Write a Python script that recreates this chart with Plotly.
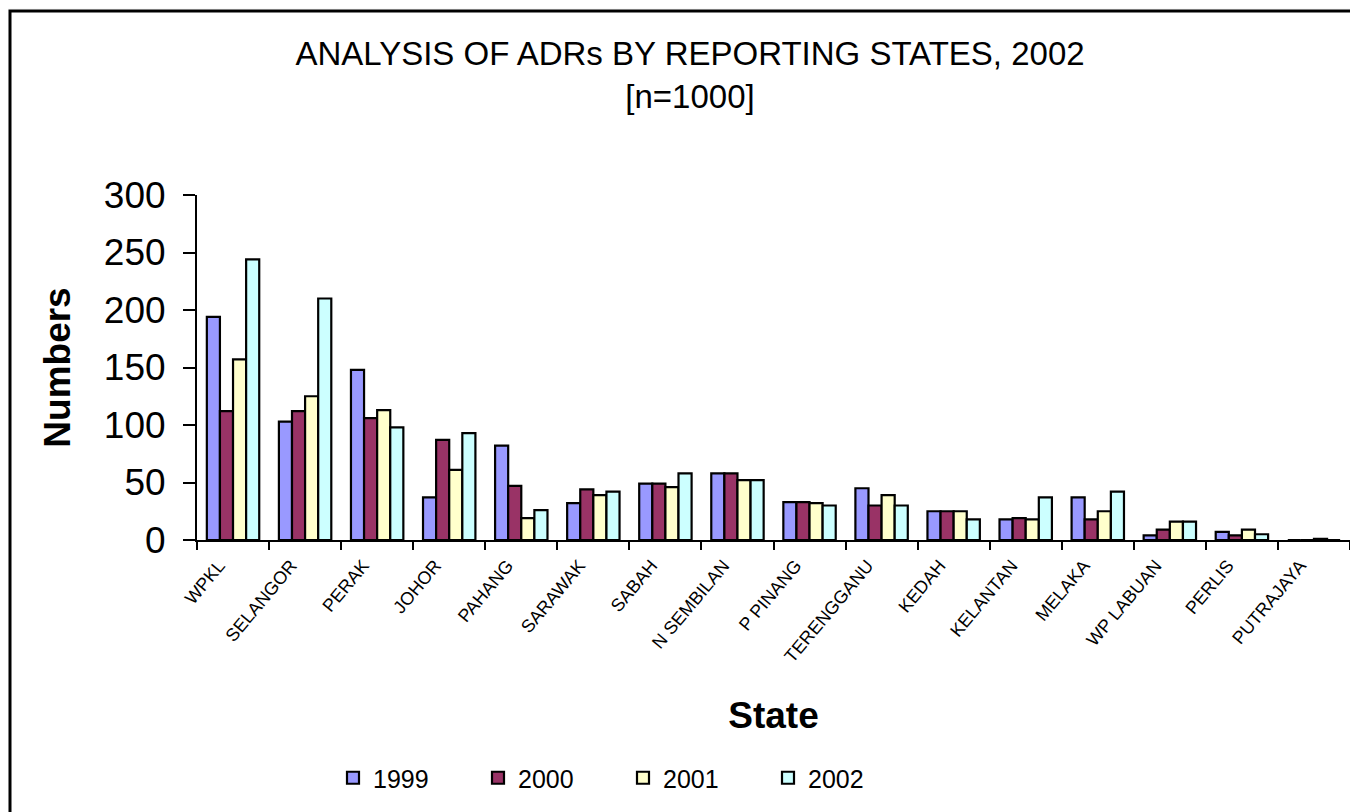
import plotly.graph_objects as go

states = ["WPKL", "SELANGOR", "PERAK", "JOHOR", "PAHANG", "SARAWAK", "SABAH",
          "N SEMBILAN", "P PINANG", "TERENGGANU", "KEDAH", "KELANTAN", "MELAKA",
          "WP LABUAN", "PERLIS", "PUTRAJAYA"]
years = ["1999", "2000", "2001", "2002"]
v1999 = [194, 103, 148, 37, 82, 32, 49, 58, 33, 45, 25, 18, 37, 4, 7, 0]
v2000 = [112, 112, 106, 87, 47, 44, 49, 58, 33, 30, 25, 19, 18, 9, 4, 0]
v2001 = [157, 125, 113, 61, 19, 39, 46, 52, 32, 39, 25, 18, 25, 16, 9, 1]
v2002 = [244, 210, 98, 93, 26, 42, 58, 52, 30, 30, 18, 37, 42, 16, 5, 0]
series = [v1999, v2000, v2001, v2002]
colors = ["#9999FF", "#993366", "#FFFFCC", "#CCFFFF"]

FONT = "Liberation Sans, Arial, sans-serif"

fig = go.Figure()
for name, vals, col in zip(years, series, colors):
    fig.add_trace(go.Bar(
        x=states, y=vals, name=name,
        marker=dict(color=col, line=dict(color="black", width=2.2)),
    ))

OFF = 8  # page body margin
W, H = 1358 - OFF, 812 - OFF
# plot area in reference pixel coordinates
PL, PR, PT, PB = 197, 1350, 195, 540
L, T = PL - OFF, PT - OFF
R = W - (PR - OFF)
B = H - (PB - OFF)
pw, ph = W - L - R, H - T - B


def px_x(p):
    return (p - PL) / pw


def px_y(p):
    return (PB - p) / ph


fig.update_layout(
    width=W, height=H,
    margin=dict(l=L, r=R, t=T, b=B, autoexpand=False),
    paper_bgcolor="#fafafa",
    plot_bgcolor="white",
    barmode="group",
    bargap=0.273,
    bargroupgap=0,
    font=dict(family=FONT, color="black"),
    title=dict(
        text="ANALYSIS OF ADRs BY REPORTING STATES, 2002<br>[n=1000]",
        x=(690 - OFF) / W, xref="container", xanchor="center",
        y=1 - (65 - OFF) / H, yref="container", yanchor="top",
        font=dict(size=33, family=FONT, color="black"),
    ),
    legend=dict(
        orientation="h",
        x=px_x(333), xanchor="left",
        y=px_y(778), yanchor="middle",
        font=dict(size=25, family=FONT, color="black"),
        entrywidth=100, entrywidthmode="pixels",
        bgcolor="rgba(0,0,0,0)",
    ),
    xaxis=dict(
        type="category",
        showline=True, linecolor="black", linewidth=2,
        ticks="outside", tickson="boundaries", ticklen=8, tickwidth=2, tickcolor="black",
        tickangle=-50,
        ticklabelshift=-14,
        ticklabelstandoff=6,
        tickfont=dict(size=18, family=FONT, color="black"),
        showgrid=False,
        title=dict(text="<b>State</b>", font=dict(size=37, family=FONT, color="black"), standoff=37),
    ),
    yaxis=dict(
        range=[0, 300],
        tickvals=[0, 50, 100, 150, 200, 250, 300],
        showline=True, linecolor="black", linewidth=2,
        ticks="outside", ticklen=12, tickwidth=2, tickcolor="black",
        ticklabelstandoff=10,
        tickfont=dict(size=37, family=FONT, color="black"),
        showgrid=False, zeroline=False,
        title=dict(text="<b>Numbers</b>", font=dict(size=37, family=FONT, color="black"), standoff=22),
    ),
    shapes=[dict(
        type="rect", xref="paper", yref="paper", layer="below",
        x0=px_x(10), x1=px_x(1358 + 20), y0=px_y(11), y1=px_y(812 + 20),
        line=dict(color="black", width=3), fillcolor="white",
    )],
)

fig.write_html("out.html")
